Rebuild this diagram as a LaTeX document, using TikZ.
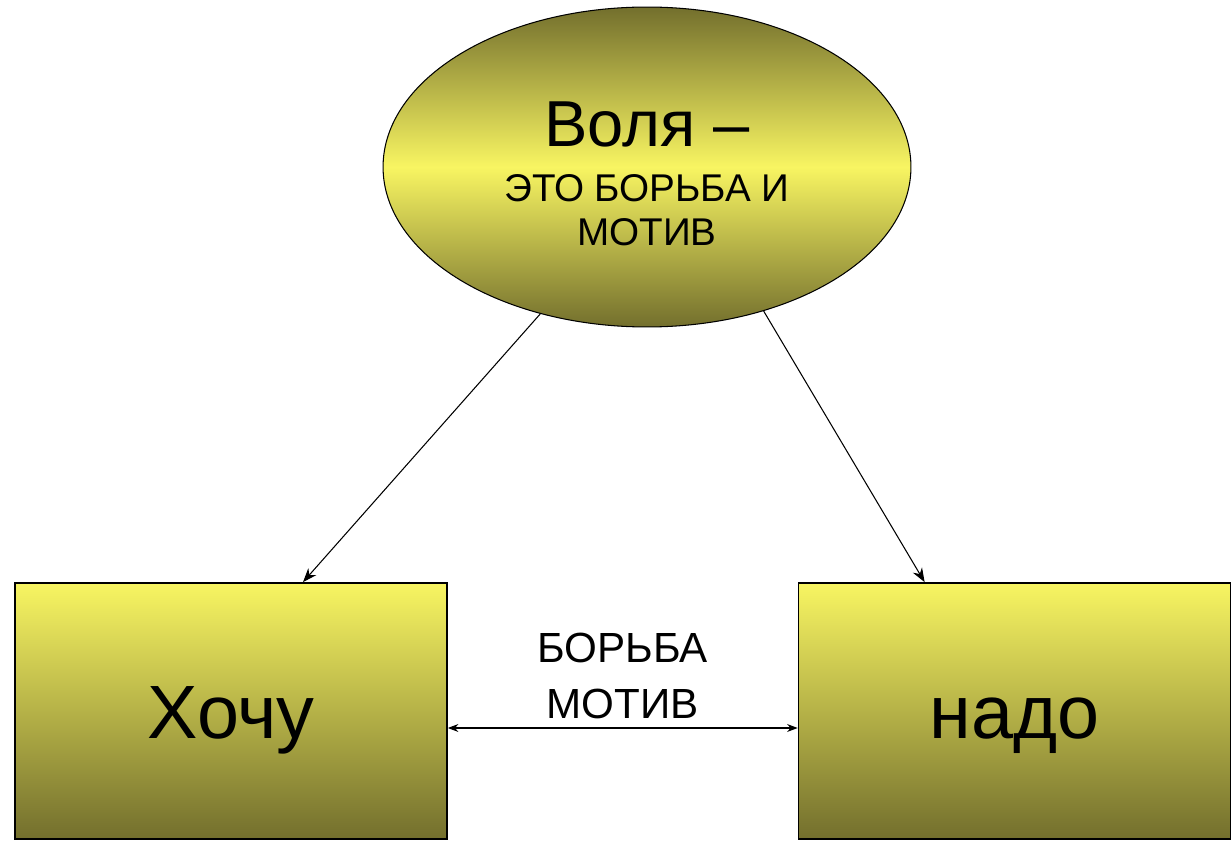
\documentclass[tikz,border=0pt]{standalone}
\usepackage{fontspec}
\setmainfont{Liberation Sans}
\usepackage{tikz}
\usetikzlibrary{arrows.meta,shapes,positioning}
\definecolor{oliveyel}{RGB}{248,245,98}
\definecolor{olivedark}{RGB}{115,111,45}
\tikzset{
    willnode/.style={
    ellipse,draw=black,line width=0.6pt,minimum width=10.56cm,minimum height=6.4cm,
    top color=olivedark,bottom color=olivedark,middle color=oliveyel,inner sep=0pt
    },
    willtext/.style={
    align=center,inner sep=0pt
    },
    choicebox/.style={
    rectangle,draw=black,line width=1pt,minimum width=8.64cm,minimum height=5.12cm,
    top color=oliveyel,bottom color=olivedark,font=\fontsize{43}{43}\selectfont,
    text height=1.2cm,text depth=0.08cm
    },
    pointer/.style={
    -{Stealth[length=8pt,width=6pt]},line width=0.6pt
    },
    bipointer/.style={
    {Stealth[length=6pt,width=4.5pt]}-{Stealth[length=6pt,width=4.5pt]},line width=0.6pt
    },
}
\begin{document}
\begin{tikzpicture}[x=0.02cm,y=-0.02cm]
  \useasboundingbox (0,0) rectangle (1231,841);
  \node[willnode] (VOLYA) at (647,167) {};
  \node[willtext] (VOLYATXT) at (647,173.5)
    {\fontsize{37}{38}\selectfont Воля --\\[15pt]
     \fontsize{22}{24}\selectfont ЭТО БОРЬБА И\\[8pt]
     \fontsize{22}{24}\selectfont МОТИВ};
  \node[choicebox] (HOCHU) at (231,711) {Хочу};
  \node[choicebox] (NADO) at (1014.5,711) {надо};

  \path
    (VOLYA.234) edge [pointer] ([xshift=1.44cm]HOCHU.north)
    (VOLYA.309.6) edge [pointer] ([xshift=2.54cm]NADO.north west)
    ([yshift=-0.34cm]HOCHU.east) edge [bipointer]
      node[above,align=center,font=\fontsize{24}{28}\selectfont,inner sep=5pt] {БОРЬБА\\[4pt]МОТИВ}
      ([yshift=-0.34cm]NADO.west);
\end{tikzpicture}
\end{document}
